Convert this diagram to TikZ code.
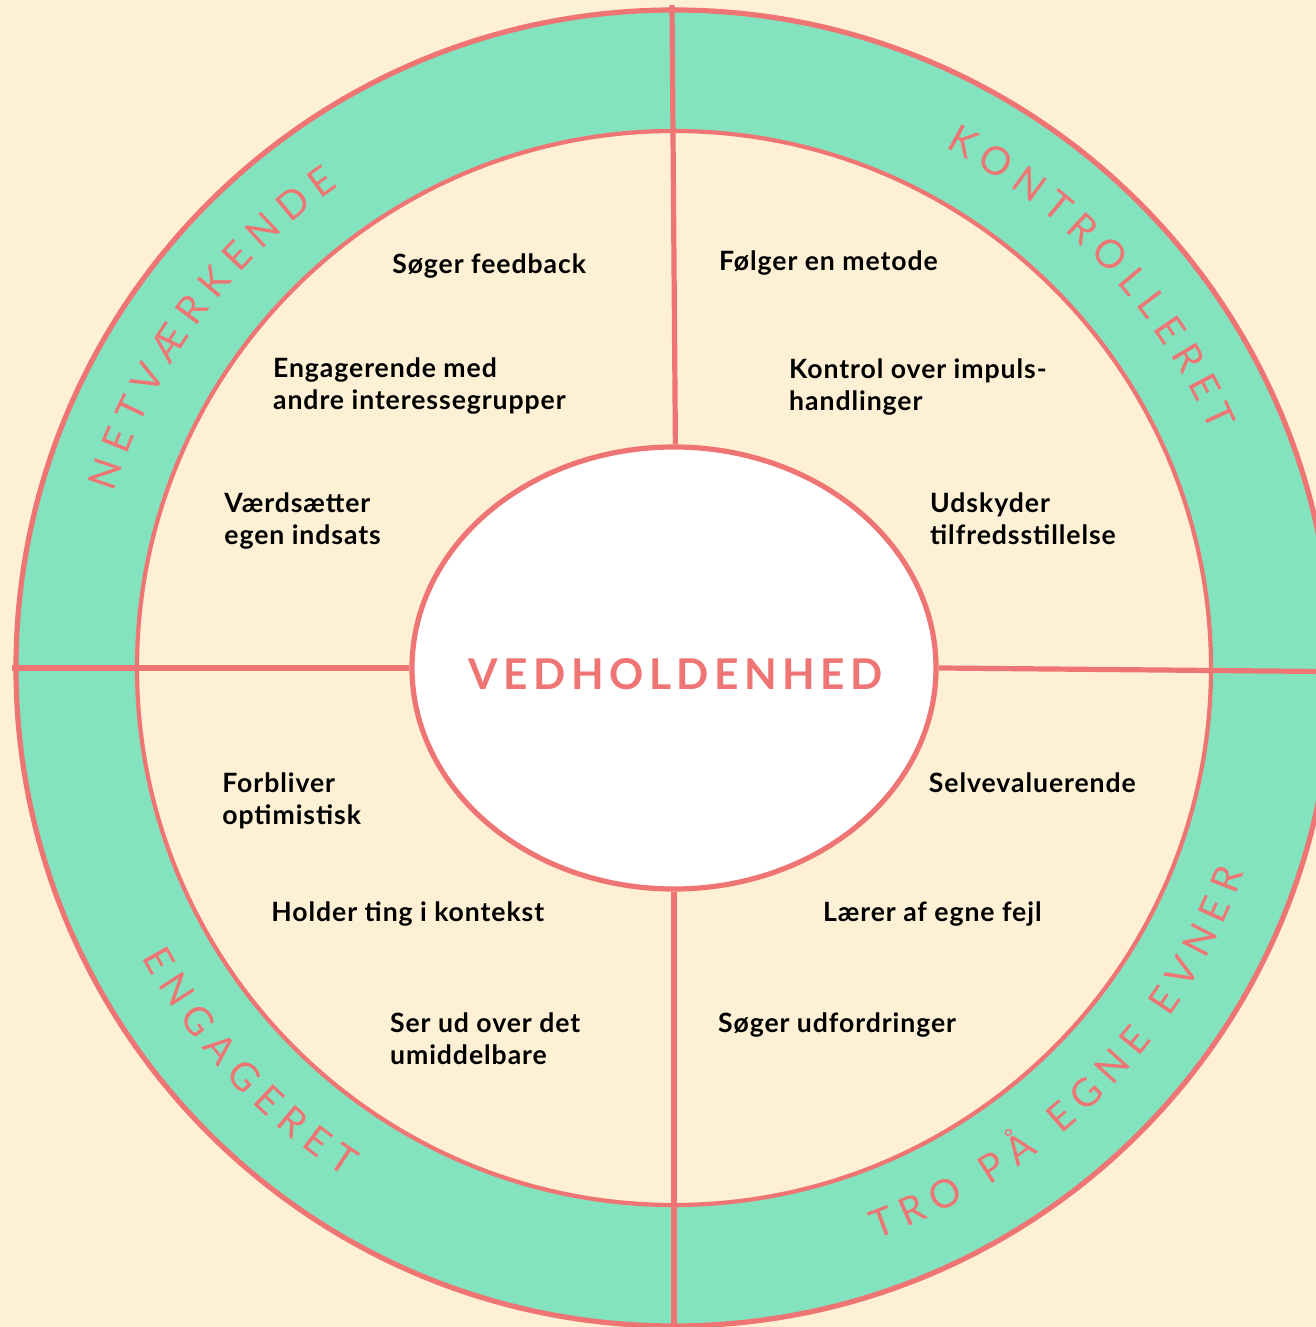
\documentclass[tikz,border=0pt]{standalone}
\usepackage{fontspec}
\setmainfont{Lato}
\newfontfamily\corefamily[LetterSpace=13]{Lato}
\newfontfamily\itemfamily[LetterSpace=3.5]{Lato}
\usetikzlibrary{shapes.geometric,decorations.text}
\definecolor{cream}{HTML}{FEF0D4}
\definecolor{mint}{HTML}{84E3BF}
\definecolor{coral}{HTML}{EF7474}
\begin{document}
\begin{tikzpicture}[x=0.5pt,y=0.5pt,
  spoke/.style={draw=coral, line width=2.6pt},
  rim/.style={draw=coral, line width=2.6pt},
  item/.style={anchor=base west, inner sep=0pt, text=black,
    font=\itemfamily\bfseries\fontsize{13.3}{15.75}\selectfont},
  ringtext/.style={decorate, decoration={text along path, text align=fit to path,
    text={|\fontsize{19.5}{20}\selectfont\color{coral}|#1}}}]
% canvas and rings
\fill[cream] (0,0) rectangle (1316,1327);
\useasboundingbox (0,0) rectangle (1316,1327);
\coordinate (C) at (674,659);
\fill[mint] (C) circle[radius=658];
\fill[cream] (C) circle[radius=537];

% central ellipse
\node[ellipse, minimum width=262pt, minimum height=221pt, inner sep=0pt,
  fill=white, draw=coral, line width=2.6pt] (core) at (C) {};

% spokes from the ellipse to the outer rim
\coordinate (rimN) at (672,1322);
\coordinate (rimE) at (1322,655.5);
\coordinate (rimW) at (12,659);
\coordinate (rimS) at (674,-6);
\draw[spoke] ([xshift=0.7pt]core.north) -- (rimN);
\draw[spoke] (core.east) -- (rimE);
\draw[spoke] (core.west) -- (rimW);
\draw[spoke] (core.south) -- (rimS);

% ring outlines
\draw[rim] (C) circle[radius=658];
\draw[coral, line width=2.1pt] (C) circle[radius=537];

% title
\node[anchor=base west, inner sep=0pt, text=coral,
  font=\corefamily\bfseries\fontsize{21.2}{24}\selectfont] (title) at (468,637) {VEDHOLDENHED};

% ring labels
\path[ringtext=NETVÆRKENDE] (C) ++(162.6:587) arc[start angle=162.6, end angle=124.8, radius=587];
\path[ringtext=KONTROLLERET] (C) ++(62.5:587) arc[start angle=62.5, end angle=23.7, radius=587];
\path[ringtext=ENGAGERET] (C) ++(208.5:606) arc[start angle=208.5, end angle=237.2, radius=606];
\path[ringtext={TRO PÅ EGNE EVNER}] (C) ++(-70.5:606) arc[start angle=-70.5, end angle=-19.8, radius=606];

% upper left quadrant
\node[item] (soegfb) at (392,1053) {Søger feedback};
\node[item] (engag) at (272.7,949.3) {\vtop{\hbox{Engagerende med}\hbox{andre interessegrupper}}};
\node[item] (vaerd) at (224,814.3) {\vtop{\hbox{Værdsætter}\hbox{egen indsats}}};
% upper right quadrant
\node[item] (metode) at (718.7,1056) {Følger en metode};
\node[item] (kontrol) at (788.8,948.4) {\vtop{\hbox{Kontrol over impuls-}\hbox{handlinger}}};
\node[item] (udsk) at (929.8,814) {\vtop{\hbox{Udskyder}\hbox{tilfredsstillelse}}};
% lower left quadrant
\node[item] (forbl) at (222,534) {\vtop{\hbox{Forbliver}\hbox{optimistisk}}};
\node[item] (holder) at (271,405.4) {Holder ting i kontekst};
\node[item] (serud) at (389.7,294) {\vtop{\hbox{Ser ud over det}\hbox{umiddelbare}}};
% lower right quadrant
\node[item] (selv) at (928.5,534) {Selvevaluerende};
\node[item] (laerer) at (822.7,405.4) {Lærer af egne fejl};
\node[item] (udfor) at (717.8,294) {Søger udfordringer};
\end{tikzpicture}
\end{document}
